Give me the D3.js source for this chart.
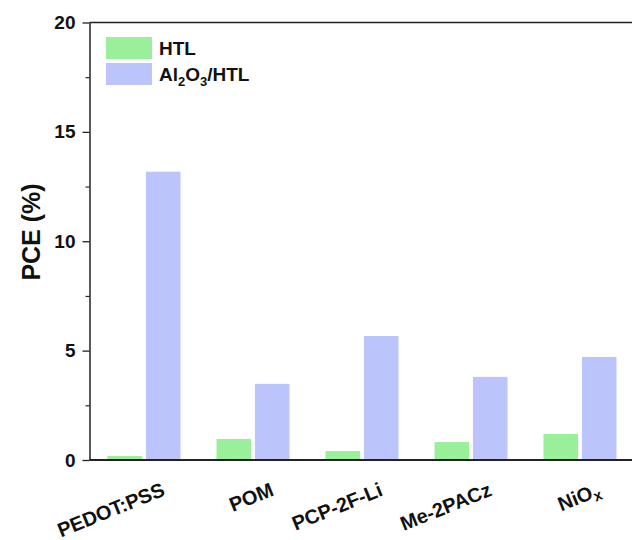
<!DOCTYPE html>
<html>
<head>
<meta charset="utf-8">
<script src="https://cdn.jsdelivr.net/npm/d3@7"></script>
<style>
  body { margin: 0; background: #fff; }
  svg text { font-family: "Liberation Sans", Arial, sans-serif; font-weight: bold; fill: #111; }
</style>
</head>
<body>
<svg id="chart" width="632" height="540"></svg>
<script>
// data
const categories = ["PEDOT:PSS", "POM", "PCP-2F-Li", "Me-2PACz", "NiOx"];
const seriesKeys = ["HTL", "Al2O3/HTL"];
const htlValues = [0.18, 0.96, 0.41, 0.82, 1.19];
const al2o3Values = [13.18, 3.48, 5.67, 3.8, 4.71];
const yMajorTicks = [0, 5, 10, 15, 20];
const yMinorTicks = [2.5, 7.5, 12.5, 17.5];

const colors = { "HTL": "#9aef9a", "Al2O3/HTL": "#bbc5fb" };

const svg = d3.select("#chart");
const margin = { left: 89.5, top: 22.5, bottom: 460 };
const plotRight = 634.5;

const rows = categories.map((c, i) => ({ cat: c, "HTL": htlValues[i], "Al2O3/HTL": al2o3Values[i] }));

const x0 = d3.scaleBand()
  .domain(categories)
  .range([margin.left, plotRight])
  .paddingInner(0.33)
  .paddingOuter(0.165);

const x1 = d3.scaleBand()
  .domain(seriesKeys)
  .range([0, x0.bandwidth()])
  .paddingInner(0.1);

const y = d3.scaleLinear()
  .domain([0, 20])
  .range([margin.bottom, margin.top]);

// bars
svg.append("g").selectAll("g")
  .data(rows)
  .join("g")
    .attr("transform", d => `translate(${x0(d.cat)},0)`)
  .selectAll("rect")
  .data(d => seriesKeys.map(k => ({ key: k, value: d[k] })))
  .join("rect")
    .attr("x", d => x1(d.key))
    .attr("width", x1.bandwidth())
    .attr("y", d => y(d.value))
    .attr("height", d => y(0) - y(d.value))
    .attr("fill", d => colors[d.key]);

// frame: top and bottom lines
svg.append("line")
  .attr("x1", margin.left).attr("x2", 632)
  .attr("y1", margin.top).attr("y2", margin.top)
  .attr("stroke", "#222").attr("stroke-width", 1.5);
svg.append("line")
  .attr("x1", margin.left).attr("x2", 632)
  .attr("y1", margin.bottom).attr("y2", margin.bottom)
  .attr("stroke", "#222").attr("stroke-width", 2);

// y axis
const yAxis = svg.append("g")
  .attr("transform", `translate(${margin.left},0)`)
  .call(d3.axisLeft(y).tickValues(yMajorTicks).tickSize(7).tickPadding(7).tickSizeOuter(0));
yAxis.select(".domain").attr("stroke", "#222").attr("stroke-width", 1.5);
yAxis.selectAll(".tick line").attr("stroke", "#222").attr("stroke-width", 1.3);
yAxis.selectAll("text").style("font-size", "19px").attr("fill", "#111");

svg.append("g")
  .attr("transform", `translate(${margin.left},0)`)
  .call(d3.axisLeft(y).tickValues(yMinorTicks).tickSize(4).tickFormat(""))
  .call(g => g.select(".domain").remove())
  .selectAll(".tick line").attr("stroke", "#222").attr("stroke-width", 1.2);

svg.append("text")
  .attr("transform", "translate(40,232) rotate(-90)")
  .attr("text-anchor", "middle")
  .style("font-size", "25px")
  .text("PCE (%)");

// x labels, rotated
const xLab = svg.append("g").selectAll("text")
  .data(categories)
  .join("text")
    .attr("transform", d => `translate(${x0(d) + x0.bandwidth() / 2 + 22},${495}) rotate(-22)`)
    .attr("text-anchor", "end")
    .style("font-size", "20px");
xLab.each(function(d) {
  const t = d3.select(this);
  if (d === "NiOx") {
    t.append("tspan").text("NiO");
    t.append("tspan").attr("baseline-shift", "-25%").style("font-size", "15px").text("x");
  } else {
    t.text(d);
  }
});

// legend
const legend = svg.append("g");
seriesKeys.forEach((k, i) => {
  const ly = 37 + i * 26;
  legend.append("rect")
    .attr("x", 106).attr("y", ly)
    .attr("width", 46).attr("height", 22)
    .attr("fill", colors[k]);
  const t = legend.append("text")
    .attr("x", 159).attr("y", ly + 18)
    .style("font-size", "19px");
  if (k === "Al2O3/HTL") {
    t.append("tspan").text("Al");
    t.append("tspan").attr("dy", 5).style("font-size", "13px").text("2");
    t.append("tspan").attr("dy", -5).text("O");
    t.append("tspan").attr("dy", 5).style("font-size", "13px").text("3");
    t.append("tspan").attr("dy", -5).text("/HTL");
  } else {
    t.text(k);
  }
});
</script>
</body>
</html>
